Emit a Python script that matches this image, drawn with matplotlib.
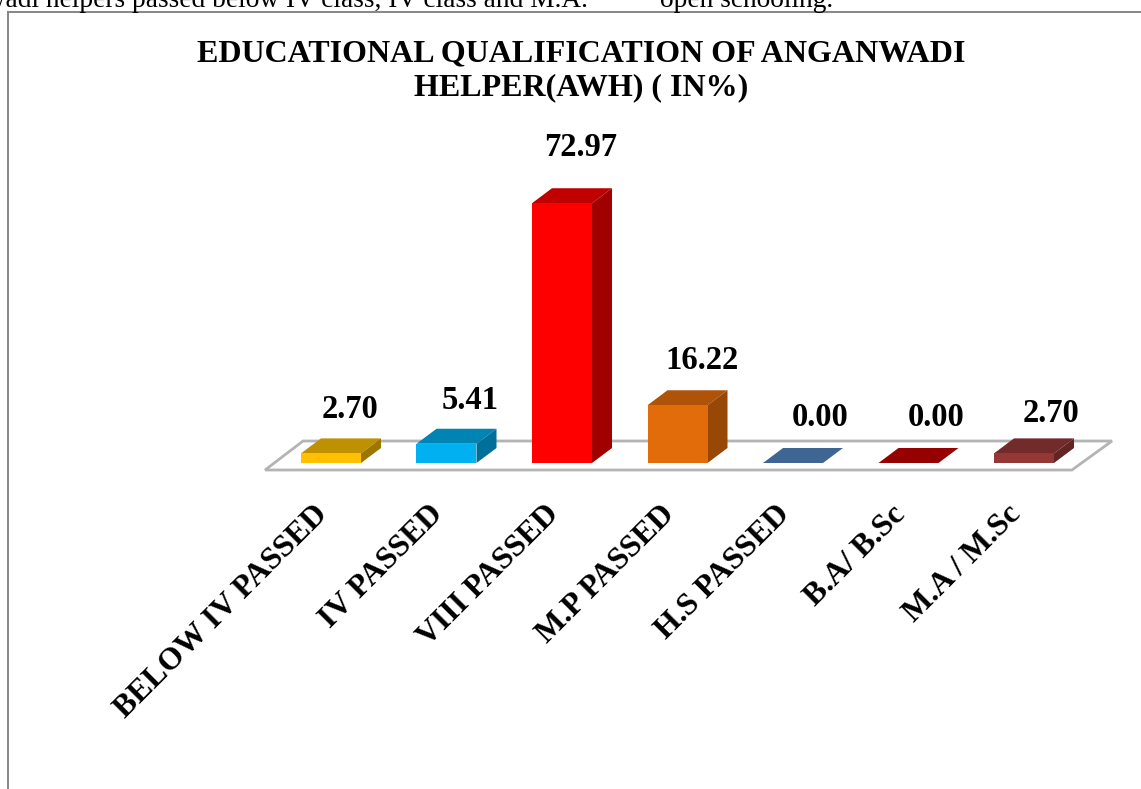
import matplotlib
matplotlib.use('Agg')
import matplotlib.pyplot as plt
from matplotlib.patches import Polygon

plt.rcParams['font.family'] = ['Liberation Serif', 'DejaVu Serif']

# data
categories = ['BELOW IV PASSED', 'IV PASSED', 'VIII PASSED', 'M.P PASSED',
              'H.S PASSED', 'B.A/ B.Sc', 'M.A / M.Sc']
values = [2.70, 5.41, 72.97, 16.22, 0.00, 0.00, 2.70]
value_labels = ['2.70', '5.41', '72.97', '16.22', '0.00', '0.00', '2.70']

# bar colours: front, top, side
front_colors = ['#FFC000', '#00B0F0', '#FF0000', '#E36C0A', '#376092', '#8F0000', '#953735']
top_colors = ['#BF9000', '#0084B4', '#C00000', '#AE5308', '#3F6593', '#960000', '#722B2A']
side_colors = ['#9C7600', '#006F9A', '#A00000', '#974706', '#2A4A70', '#700000', '#632523']

W, H = 1141, 789
slot = 115.5      # pixels per category
unit = 3.56       # pixels per percent
x0_px, y0_px = 331, 463   # where category 0 / value 0 sit
px = 0.72         # one pixel in points at dpi 100

fig = plt.figure(figsize=(W / 100, H / 100), dpi=100, facecolor='white')
ax = fig.add_axes([0, 0, 1, 1])
ax.set_xlim(-x0_px / slot, (W - x0_px) / slot)
ax.set_ylim((y0_px - H) / unit, y0_px / unit)
ax.axis('off')

half = 30 / slot     # half bar width
dx = 20 / slot       # 3d depth
dy = 15 / unit

# frame of the chart, runs off the right and bottom of the page
fig.add_artist(plt.Line2D([8 / W, 8 / W], [0, 1 - 12 / H], color='#868686', lw=1.4))
fig.add_artist(plt.Line2D([8 / W, 1], [1 - 12 / H, 1 - 12 / H], color='#868686', lw=1.4))

# floor of the 3d chart
floor = [(-0.571, -7 / unit), (6.415, -7 / unit), (6.762, 22 / unit), (-0.242, 22 / unit)]
ax.add_patch(Polygon(floor, closed=True, facecolor='white', edgecolor='#B4B4B4', lw=2, zorder=1))

for i, v in enumerate(values):
    l, r = i - half, i + half
    ax.add_patch(Polygon([(l, v), (r, v), (r + dx, v + dy), (l + dx, v + dy)],
                         closed=True, facecolor=top_colors[i], edgecolor='none', zorder=2))
    if v > 0:
        ax.add_patch(Polygon([(r, 0), (r + dx, dy), (r + dx, v + dy), (r, v)],
                             closed=True, facecolor=side_colors[i], edgecolor='none', zorder=2))
        ax.bar(i, v, width=2 * half, color=front_colors[i], zorder=3)

# value labels sit a bit off the bars, offsets by eye (pixels)
label_dx = [19, 23.5, 19, 24.5, 27, 27.5, 27]
label_dy = [44, 43, 56, 45, 46, 46, 40]
for i, v in enumerate(values):
    ax.annotate(value_labels[i], (i, v), xytext=(label_dx[i] * px, label_dy[i] * px),
                textcoords='offset points', ha='center', va='center',
                fontsize=23.5, fontweight='bold', color='black')

# category labels, rotated
for i, name in enumerate(categories):
    ax.annotate(name, (i, 0), xytext=(-18 * px, -37 * px), textcoords='offset points',
                rotation=45, rotation_mode='anchor', ha='right', va='top',
                fontsize=22.8, fontweight='bold', color='black')

fig.text(581 / W, 1 - 54 / H, 'EDUCATIONAL QUALIFICATION OF ANGANWADI', ha='center', va='center',
         fontsize=23, fontweight='bold')
fig.text(581 / W, 1 - 88 / H, 'HELPER(AWH) ( IN%)', ha='center', va='center',
         fontsize=23, fontweight='bold')

# line of body text cut off at the top of the page
fig.text(588 / W, 1 - 7 / H, 'nwadi helpers passed below IV class, IV class and M.A.',
         ha='right', va='baseline', fontsize=19.7, color='black')
fig.text(660 / W, 1 - 7 / H, 'open schooling.', ha='left', va='baseline', fontsize=19.7, color='black')

fig.savefig('out.png', dpi=100, facecolor='white')
